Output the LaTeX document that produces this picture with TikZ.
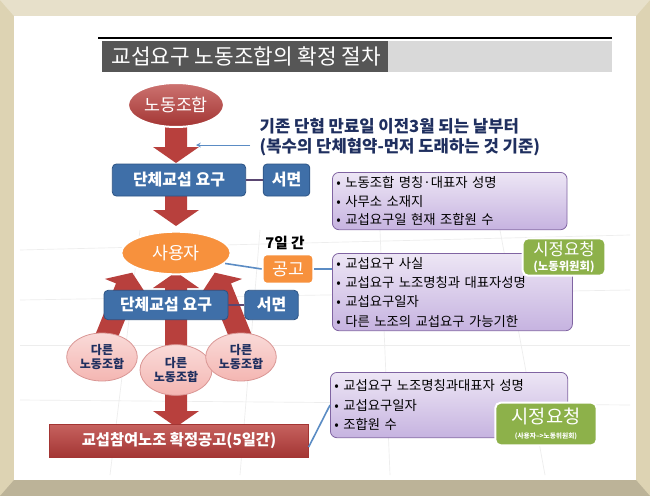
\documentclass[tikz,border=0pt]{standalone}
\usepackage{fontspec}
\setmainfont{Noto Sans CJK KR}
\usetikzlibrary{shapes.geometric,positioning,calc}
\definecolor{frameC}{HTML}{DDD3B3}
\definecolor{titleD}{HTML}{565656}
\definecolor{titleL}{HTML}{D9D9D9}
\definecolor{redC}{HTML}{C0504D}
\definecolor{redD}{HTML}{A33533}
\definecolor{redA}{HTML}{B8403D}
\definecolor{blueC}{HTML}{3F6FA8}
\definecolor{blueD}{HTML}{2C5384}
\definecolor{orangeC}{HTML}{F7913D}
\definecolor{purpL}{HTML}{EDE6F5}
\definecolor{purpD}{HTML}{C6B3E0}
\definecolor{purpB}{HTML}{8064A2}
\definecolor{greenC}{HTML}{8DB14A}
\definecolor{pinkC}{HTML}{F4B6B2}
\definecolor{navy}{HTML}{1F2F5F}
\definecolor{lineB}{HTML}{5B8CC4}
\tikzset{
  redell/.style={ellipse,draw=white,line width=1.5pt,top color=redC!80,bottom color=redD,text=white,font=\fontsize{13}{15}\selectfont,minimum width=72pt,minimum height=33pt,inner sep=0pt},
  orell/.style={ellipse,draw=white,line width=1.5pt,fill=orangeC,text=white,font=\fontsize{13}{15}\selectfont,minimum width=82pt,minimum height=32pt,inner sep=0pt},
  pinkell/.style={ellipse,draw=redC!60,line width=0.6pt,top color=pinkC!50,bottom color=pinkC,text=navy,font=\fontsize{9}{10.5}\selectfont\bfseries,align=center,inner sep=0pt},
  bluebox/.style={rectangle,rounded corners=3pt,draw=blueD,line width=0.6pt,fill=blueC,text=white,font=\fontsize{12}{14}\selectfont\bfseries,inner sep=0pt,minimum height=24pt},
  orbox/.style={rectangle,rounded corners=3pt,draw=white,line width=1.5pt,fill=orangeC,text=white,font=\fontsize{13}{15}\selectfont,inner sep=0pt,minimum height=22pt,minimum width=38pt},
  purpbox/.style={rectangle,rounded corners=5pt,draw=purpB,line width=0.6pt,top color=purpL,bottom color=purpD,text=black,font=\fontsize{10}{13.8}\selectfont,align=left,anchor=north west,inner xsep=3pt,inner ysep=2pt},
  greenbox/.style={rectangle,rounded corners=4pt,draw=white,line width=1.5pt,fill=greenC,text=white,align=center,inner sep=0pt},
  redbox/.style={rectangle,draw=redD,line width=0.5pt,top color=redC!90,bottom color=redD,text=white,font=\fontsize{11.5}{13}\selectfont\bfseries,inner sep=0pt},
  conn/.style={line width=1.2pt,draw=lineB},
  connp/.style={line width=1.2pt,draw=purpB!70!black}
}
% block arrow: x, y of tail, canvas angle, length
\newcommand{\blockarrow}[4]{%
  \begin{scope}[shift={(#1,#2)},rotate=#3]
    \fill[redA] (0,-11) -- (#4-16,-11) -- (#4-16,-23) -- (#4,0) -- (#4-16,23) -- (#4-16,11) -- (0,11) -- cycle;
  \end{scope}}
\begin{document}
\begin{tikzpicture}[x=0.75pt,y=-0.75pt]
\useasboundingbox (0,0) rectangle (650,496);
% frame
\fill[frameC] (0,0) rectangle (650,496);
\fill[frameC!70!white] (0,0) -- (650,0) -- (636,16) -- (14,16) -- cycle;
\fill[frameC!85!black] (14,480) -- (636,480) -- (650,496) -- (0,496) -- cycle;
\fill[white] (14,16) rectangle (636,480);
% faint background grid
\begin{scope}[draw=black!7,line width=0.5pt]
\draw (20,250) -- (630,235);
\draw (20,300) -- (630,290);
\draw (20,345) -- (630,345);
\draw (20,400) -- (630,405);
\draw (140,230) -- (110,475);
\draw (260,230) -- (240,475);
\draw (380,230) -- (390,475);
\draw (500,230) -- (545,475);
\end{scope}
% title
\draw[black,line width=1pt] (98,38) -- (612,38);
\fill[titleD] (102,41) rectangle (388,72);
\fill[titleL] (388,41) rectangle (612,72);
\node[text=white,font=\fontsize{16}{18}\selectfont,anchor=west] (title) at (107,56.5) {교섭요구 노동조합의 확정 절차};

% down arrows
\blockarrow{176}{127}{-90}{36}
\blockarrow{176}{196}{-90}{30}
\blockarrow{176}{393}{-90}{34}
% up arrows
\blockarrow{103}{345}{68}{78}
\blockarrow{176}{348}{90}{76}
\blockarrow{244}{345}{112}{78}

% nodes
\node[redell] (union) at (176,105) {노동조합};
\node[bluebox,minimum width=100pt] (req1) at (179,180) {단체교섭 요구};
\node[bluebox,minimum width=35pt] (doc1) at (286.5,180) {서면};
\node[purpbox,text width=170pt,minimum height=43pt] (p1) at (332,172) {• 노동조합 명칭·대표자 성명\\• 사무소 소재지\\• 교섭요구일 현재 조합원 수};

\node[font=\fontsize{12.5}{15.5}\selectfont\bfseries,text=navy,align=left,anchor=west] (note) at (255,137) {기존 단협 만료일 이전3월 되는 날부터\\(복수의 단체협약-먼저 도래하는 것 기준)};
\coordinate (noteL) at (250,145);
\coordinate (noteR) at (196,145);
\draw[lineB,line width=0.6pt,-stealth] (noteL) -- (noteR);

\node[orell] (emp) at (176,253) {사용자};
\node[font=\fontsize{11}{12}\selectfont\bfseries] (seven) at (285,243) {7일 간};
\node[orbox] (notice) at (288,269) {공고};
\node[purpbox,text width=174pt,minimum height=58pt,font=\fontsize{10}{14.5}\selectfont] (p2) at (332,253) {• 교섭요구 사실\\• 교섭요구 노조명칭과 대표자성명\\• 교섭요구일자\\• 다른 노조의 교섭요구 가능기한};
\node[greenbox,minimum width=62pt,minimum height=28pt] (g1) at (564,257) {{\fontsize{12.5}{13}\selectfont 시정요청}\\[-1pt]{\fontsize{8.5}{9}\selectfont\bfseries (노동위원회)}};

\node[pinkell,minimum width=53pt,minimum height=36pt] (o1) at (102,357) {다른\\노동조합};
\node[pinkell,minimum width=54pt,minimum height=38pt] (o2) at (176,370) {다른\\노동조합};
\node[pinkell,minimum width=53pt,minimum height=36pt] (o3) at (241,357) {다른\\노동조합};

\node[bluebox,minimum width=93pt,minimum height=22pt] (req2) at (166,305) {단체교섭 요구};
\node[bluebox,minimum width=40pt,minimum height=22pt] (doc2) at (271.5,305) {서면};
\node[redbox,minimum width=194pt,minimum height=25pt] (final) at (179,441) {교섭참여노조 확정공고(5일간)};
\node[purpbox,text width=172pt,minimum height=49pt,font=\fontsize{10}{14.5}\selectfont] (p3) at (330,372) {• 교섭요구 노조명칭과대표자 성명\\• 교섭요구일자\\• 조합원 수};
\node[greenbox,minimum width=76pt,minimum height=32pt] (g2) at (546,424) {{\fontsize{14}{15}\selectfont 시정요청}\\[-1pt]{\fontsize{5}{6}\selectfont\bfseries (사용자-->노동위원회)}};

% connectors
\draw[connp] (req1.east) -- (doc1.west);
\draw[connp] (req2.east) -- (doc2.west);
\draw[conn] (emp.-12) -- (notice.west);
\draw[conn] (notice.east) -- (p2.west |- notice.east);
\draw[conn] ($(final.east)+(0,6)$) -- (p3.west);
\end{tikzpicture}
\end{document}
